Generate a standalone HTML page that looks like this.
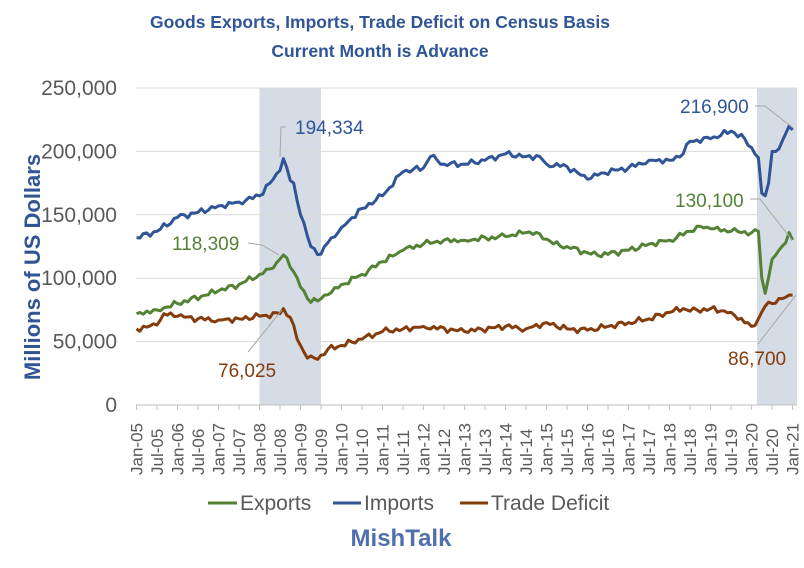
<!DOCTYPE html>
<html><head><meta charset="utf-8"><style>
body{margin:0;background:#fff;}
svg{display:block;font-family:"Liberation Sans",sans-serif;}
</style></head><body>
<svg id="s" width="804" height="568" viewBox="0 0 804 568">
<rect width="804" height="568" fill="#fff"/>
<text x="380" y="28" text-anchor="middle" font-size="17.5" font-weight="bold" fill="#2F5597">Goods Exports, Imports, Trade Deficit on Census Basis</text>
<text x="380" y="57" text-anchor="middle" font-size="17.5" font-weight="bold" fill="#2F5597">Current Month is Advance</text>
<rect x="259.5" y="88" width="61.5" height="317" fill="#D6DCE5"/>
<rect x="757" y="88" width="40" height="317" fill="#D6DCE5"/>
<g id="grid" stroke="#D9D9D9" stroke-width="1"></g>
<g id="ylab" font-size="21" fill="#595959" text-anchor="end"></g>
<g id="xlab" font-size="17" fill="#595959"></g>
<text transform="translate(40,267) rotate(-90)" text-anchor="middle" font-size="22" font-weight="bold" fill="#2F5597">Millions of US Dollars</text>
<g id="lines" fill="none" stroke-width="3" stroke-linejoin="round"></g>
<g stroke="#A6A6A6" stroke-width="1" fill="none">
<polyline points="286,127 281,127 280,157"/>
<polyline points="248,243 262,245 279,255"/>
<polyline points="248,352 282,310"/>
<polyline points="755,106 765,106 793,128"/>
<polyline points="750,199 760,199 792,240"/>
<polyline points="758,344 796,295"/>
</g>
<g font-size="19">
<text x="295" y="134" fill="#2F5597">194,334</text>
<text x="172" y="250" fill="#548235">118,309</text>
<text x="218" y="377" fill="#843C0C">76,025</text>
<text x="680" y="113" fill="#2F5597">216,900</text>
<text x="675" y="207" fill="#548235">130,100</text>
<text x="728" y="365" fill="#843C0C">86,700</text>
</g>
<g font-size="21" fill="#595959">
<line x1="208" y1="503" x2="237" y2="503" stroke="#548235" stroke-width="3"/>
<text x="240" y="510">Exports</text>
<line x1="333" y1="503" x2="361" y2="503" stroke="#2F5597" stroke-width="3"/>
<text x="364" y="510">Imports</text>
<line x1="460" y1="503" x2="488" y2="503" stroke="#843C0C" stroke-width="3"/>
<text x="491" y="510">Trade Deficit</text>
</g>
<text x="401" y="546" text-anchor="middle" font-size="24" font-weight="bold" fill="#4F6FAE">MishTalk</text>
</svg>
<script>
var NS="http://www.w3.org/2000/svg";
function el(p,t,a,txt){var e=document.createElementNS(NS,t);for(var k in a)e.setAttribute(k,a[k]);if(txt)e.textContent=txt;document.getElementById(p).appendChild(e);return e;}
function Y(v){return 405-v*317/250;}
function X(m){return 136.5+m*3.417;}
for(var i=0;i<=5;i++){var y=Y(i*50);if(i>0)el("grid","line",{x1:136,x2:797,y1:y,y2:y});
el("ylab","text",{x:117,y:y+7},i==0?"0":(i*50)+",000");}
el("grid","line",{x1:136,x2:797,y1:405,y2:405,stroke:"#BFBFBF"});
var mn=["Jan","Jul"];
for(var m=0;m<=192;m+=6){var x=X(m);el("grid","line",{x1:x,x2:x,y1:405,y2:410,stroke:"#BFBFBF"});
var yr=5+Math.floor(m/12);var lab=mn[(m/6)%2]+"-"+(yr<10?"0"+yr:yr);
el("xlab","text",{transform:"translate("+(x+6)+",475) rotate(-90)"},lab);}
function series(k,col,seed){var pts=[];var j=0;
for(var m=0;m<=192;m++){while(k[j+1]&&k[j+1][0]<m)j++;var a=k[j],b=k[j+1]||a;var v=a[0]==b[0]?a[1]:a[1]+(b[1]-a[1])*(m-a[0])/(b[0]-a[0]);
var isKey=k.some(function(p){return p[0]==m;});
if(!isKey)v+=1.6*Math.sin(m*2.3+seed)+1.0*Math.sin(m*5.1+seed*2);
pts.push(X(m).toFixed(1)+","+Y(v).toFixed(1));}
el("lines","polyline",{points:pts.join(" "),stroke:col});}
var imp=[[0,132],[6,137],[12,148],[18,152],[24,157],[30,160],[36,165],[40,178],[42,185],[43,194.3],[45,177],[46,175],[48,150],[51,125],[54,119],[56,128],[60,140],[66,155],[72,165],[78,184],[84,187],[86,196],[90,190],[96,190],[102,193],[108,198],[114,196],[118,196],[120,190],[126,188],[132,178],[136,183],[144,187],[150,193],[156,193],[160,198],[162,208],[168,210],[174,216],[178,210],[180,203],[182,195],[183,167],[184,165],[185,175],[186,200],[188,202],[190,214],[191,220],[192,216.9]];
var exp=[[0,72],[6,75],[12,80],[24,90],[30,95],[36,103],[40,108],[43,118.3],[44,116],[46,105],[48,93],[50,84],[53,82],[56,87],[60,95],[66,103],[72,113],[78,122],[84,127],[90,130],[96,130],[108,133],[114,136],[118,135],[122,127],[126,125],[132,120],[135,118],[144,122],[150,127],[156,130],[162,137],[164,141],[168,139],[174,137],[180,136],[182,137],[183,100],[184,88],[186,115],[188,122],[190,128],[191,136],[192,130.1]];
var def=[[0,60],[6,63],[8,72],[12,70],[18,68],[24,67],[30,68],[36,70],[42,72],[43,76],[45,69],[47,52],[50,37],[53,36],[56,44],[60,47],[66,52],[72,58],[78,60],[84,62],[96,58],[108,62],[114,60],[120,65],[126,60],[132,59],[138,62],[144,65],[150,68],[156,73],[160,76],[162,74],[168,76],[174,73],[180,62],[182,68],[184,78],[186,80],[188,84],[190,85],[192,86.7]];
series(exp,"#548235",1);series(imp,"#2F5597",2);series(def,"#843C0C",3);
</script>
</body></html>
